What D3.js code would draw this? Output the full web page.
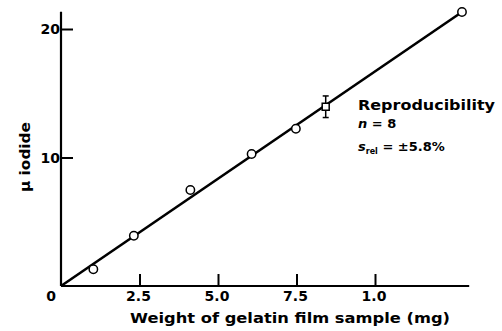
<!DOCTYPE html>
<html>
<head>
<meta charset="utf-8">
<script src="https://cdn.jsdelivr.net/npm/d3@7"></script>
<style>
  html, body { margin: 0; padding: 0; background: #fff; }
  svg text { font-family: "DejaVu Sans", sans-serif; font-weight: bold; fill: #000; }
</style>
</head>
<body>
<svg id="chart" width="502" height="331"></svg>
<script>
// ---- data ----
const weights = [1.03, 2.32, 4.12, 6.07, 7.48, 12.77];       // mg (circles)
const iodide  = [1.30, 3.91, 7.47, 10.27, 12.24, 21.32];     // µ iodide
const reproWeight = [8.43];                                  // square point
const reproIodide = [13.95];
const reproError  = [0.84];
const fitLineX = [0, 12.77];
const fitLineY = [0, 21.32];
const xTickValues = [2.5, 5.0, 7.5, 10.0];
const xTickLabels = ["2.5", "5.0", "7.5", "1.0"];
const yTickValues = [10, 20];
const yTickLabels = ["10", "20"];

const svg = d3.select("#chart");
const x = d3.scaleLinear().domain([0, 10]).range([61, 375]);
const y = d3.scaleLinear().domain([0, 20]).range([286, 29]);
const xMax = 13.0, yMax = 21.35;

// axes
const xAxis = d3.axisTop(x).tickValues(xTickValues).tickSize(12).tickFormat(() => "");
const gx = svg.append("g").attr("transform", `translate(0,${y(0)})`).call(xAxis);
gx.select(".domain").remove();
gx.selectAll(".tick line").attr("stroke", "#000").attr("stroke-width", 2);
svg.append("line").attr("x1", x(0)).attr("x2", x(xMax))
  .attr("y1", y(0)).attr("y2", y(0)).attr("stroke", "#000").attr("stroke-width", 2.2);

const yAxis = d3.axisRight(y).tickValues(yTickValues).tickSize(12).tickFormat(() => "");
const gy = svg.append("g").attr("transform", `translate(${x(0)},0)`).call(yAxis);
gy.select(".domain").remove();
gy.selectAll(".tick line").attr("stroke", "#000").attr("stroke-width", 2);
svg.append("line").attr("x1", x(0)).attr("x2", x(0))
  .attr("y1", y(0)).attr("y2", y(yMax)).attr("stroke", "#000").attr("stroke-width", 2.2);

// tick labels
svg.selectAll(".xt").data(xTickValues).enter().append("text")
  .attr("x", d => x(d) - 1).attr("y", y(0) + 15)
  .attr("text-anchor", "middle").attr("font-size", 14)
  .text((d, i) => xTickLabels[i]);
svg.append("text").attr("x", x(0) - 10).attr("y", y(0) + 15)
  .attr("text-anchor", "middle").attr("font-size", 14).text("0");
svg.selectAll(".yt").data(yTickValues).enter().append("text")
  .attr("x", x(0) - 1).attr("y", d => y(d) + 5)
  .attr("text-anchor", "end").attr("font-size", 14)
  .text((d, i) => yTickLabels[i]);

// axis titles
svg.append("text").attr("x", 290).attr("y", 323)
  .attr("text-anchor", "middle").attr("font-size", 14)
  .attr("textLength", 320).attr("lengthAdjust", "spacingAndGlyphs")
  .text("Weight of gelatin film sample (mg)");
svg.append("text").attr("transform", "translate(30,157) rotate(-90)")
  .attr("text-anchor", "middle").attr("font-size", 14)
  .attr("textLength", 70).attr("lengthAdjust", "spacingAndGlyphs")
  .text("\u00b5 iodide");

// fit line
const line = d3.line().x(d => x(d[0])).y(d => y(d[1]));
svg.append("path").datum(fitLineX.map((v, i) => [v, fitLineY[i]]))
  .attr("d", line).attr("fill", "none").attr("stroke", "#000").attr("stroke-width", 2.6);

// error bar + square
reproWeight.forEach((w, i) => {
  const cx = x(w), lo = y(reproIodide[i] - reproError[i]), hi = y(reproIodide[i] + reproError[i]);
  svg.append("line").attr("x1", cx).attr("x2", cx).attr("y1", lo).attr("y2", hi)
    .attr("stroke", "#000").attr("stroke-width", 1.5);
  [lo, hi].forEach(yy => svg.append("line").attr("x1", cx - 3).attr("x2", cx + 3)
    .attr("y1", yy).attr("y2", yy).attr("stroke", "#000").attr("stroke-width", 1.5));
  svg.append("rect").attr("x", cx - 3.5).attr("y", y(reproIodide[i]) - 3.5)
    .attr("width", 7).attr("height", 7).attr("fill", "#fff")
    .attr("stroke", "#000").attr("stroke-width", 1.5);
});

// circles
svg.selectAll(".pt").data(weights).enter().append("circle")
  .attr("cx", d => x(d)).attr("cy", (d, i) => y(iodide[i])).attr("r", 4.2)
  .attr("fill", "#fff").attr("stroke", "#000").attr("stroke-width", 1.5);

// annotation
const ann = svg.append("g");
ann.append("text").attr("x", 358).attr("y", 110).attr("font-size", 13.5)
  .attr("textLength", 137).attr("lengthAdjust", "spacingAndGlyphs").text("Reproducibility");
const t2 = ann.append("text").attr("x", 358).attr("y", 128).attr("font-size", 13);
t2.append("tspan").attr("font-style", "italic").text("n");
t2.append("tspan").text(" = 8");
const t3 = ann.append("text").attr("x", 358).attr("y", 151).attr("font-size", 13);
t3.append("tspan").attr("font-style", "italic").text("s");
t3.append("tspan").attr("font-size", 8).attr("dy", 3).text("rel");
t3.append("tspan").attr("dy", -3).text(" = \u00b15.8%");
</script>
</body>
</html>
